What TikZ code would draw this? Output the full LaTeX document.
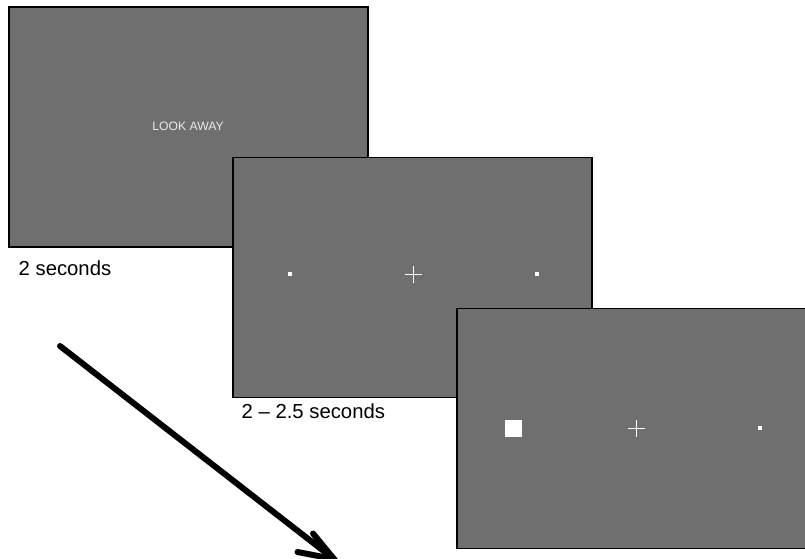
\documentclass[tikz,border=0pt]{standalone}
\usepackage{fontspec}
\setmainfont{Liberation Sans}
\usetikzlibrary{calc}
\definecolor{screengray}{RGB}{111,111,111}
\begin{document}
\begin{tikzpicture}[x=1pt,y=-1pt,
  screen/.style={draw=black, line width=1.3pt, fill=screengray,
    minimum width=359pt, minimum height=240pt, inner sep=0pt, outer sep=0pt},
  caption/.style={anchor=base west, inner sep=0pt, text=black,
    font=\fontsize{20.3}{23}\selectfont},
  prompt/.style={anchor=base, inner sep=0pt, text=white!92!black,
    font=\fontsize{12.2}{14}\selectfont},
  dot/.style={fill=white, draw=none, minimum size=4pt, inner sep=0pt},
  bigsquare/.style={fill=white, draw=none, minimum size=16.5pt, inner sep=0pt},
  fixline/.style={draw=white, line width=1.4pt},
  arrowline/.style={draw=black, line width=6pt, line cap=round}]
  \useasboundingbox (0,0) rectangle (805,558);
  \clip (0,0) rectangle (805,558);

  % first screen: look-away prompt
  \node[screen] (s1) at (188.5,127) {};
  \node[prompt] (look) at (188,130.7) {LOOK AWAY};
  \node[caption] (t1) at (18.5,275) {2 seconds};

  % second screen: fixation cross with two placeholders
  \node[screen] (s2) at (412.5,277.5) {};
  \node[dot] (d2l) at (290,274.3) {};
  \node[dot] (d2r) at (537.3,274.3) {};
  \coordinate (c2) at (413.3,274.3);
  \draw[fixline] ($(c2)+(-8.3,0)$) -- ($(c2)+(8.3,0)$);
  \draw[fixline] ($(c2)+(0,-8.3)$) -- ($(c2)+(0,8.3)$);
  \node[caption] (t2) at (241.5,418) {2 -- 2.5 seconds};

  % third screen: cue on the left
  \node[screen] (s3) at (636.5,428.5) {};
  \node[bigsquare] (cue) at (513.3,428.3) {};
  \node[dot] (d3r) at (760.3,428.3) {};
  \coordinate (c3) at (636.7,428.3);
  \draw[fixline] ($(c3)+(-8.3,0)$) -- ($(c3)+(8.3,0)$);
  \draw[fixline] ($(c3)+(0,-8.3)$) -- ($(c3)+(0,8.3)$);

  % time arrow
  \coordinate (a0) at (60,346);
  \coordinate (tip) at (334,559);
  \coordinate (barbU) at (313,533.5);
  \coordinate (barbL) at (297.5,552);
  \draw[arrowline] (a0) -- (tip);
  \draw[arrowline] (barbU) -- (tip) -- (barbL);
\end{tikzpicture}
\end{document}
